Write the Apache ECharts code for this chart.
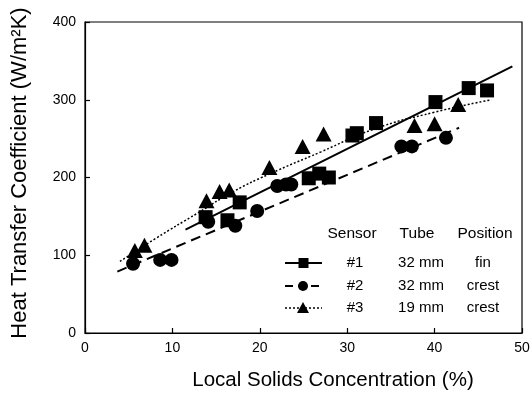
<!DOCTYPE html>
<html><head><meta charset="utf-8">
<script src="https://cdn.jsdelivr.net/npm/echarts@6/dist/echarts.min.js"></script>
<style>html,body{margin:0;padding:0;background:#fff}#c{width:532px;height:400px}</style>
</head><body><div id="c"></div>
<script>
// Sensor #1 (squares)
const s1 = [[13.8,149],[16.3,145],[17.7,168],[25.6,199],[26.8,205],[27.9,200],[30.6,254],[31.1,257],[33.3,270],[40.1,297],[43.9,315],[46.0,312]];
// Sensor #2 (circles)
const s2 = [[5.5,89],[8.6,94],[9.9,94],[14.1,143],[17.2,138],[19.7,157],[22.0,189],[23.0,191],[23.6,191],[36.2,240],[37.4,240],[41.3,251]];
// Sensor #3 (triangles)
const s3 = [[5.7,106],[6.8,113],[13.9,170],[15.4,182],[16.5,184],[21.1,213],[24.9,240],[27.3,256],[37.7,267],[40.0,269],[42.7,294]];
// Fit curves
const fit1 = [[11.5,133],[48.9,343]];
const fit2 = [[3.7,79],[42.8,264]];
const fit3 = [[4,92],[8,121],[13,155],[17,182],[21,204],[27,233],[33,262],[40,284],[46.5,300]];
const xTicks = [0,10,20,30,40,50];
const yTicks = [0,100,200,300,400];
const legendRows = [["#1","32 mm","fin"],["#2","32 mm","crest"],["#3","19 mm","crest"]];
const legendHeader = ["Sensor","Tube","Position"];
const xTitle = 'Local Solids Concentration (%)';
const yTitle = 'Heat Transfer Coefficient (W/m²K)';

const FONT = '"Liberation Sans", Arial, Helvetica, sans-serif';
const chart = echarts.init(document.getElementById('c'), null, {renderer:'canvas'});

const gridL = 85, gridT = 22, gridR = 10, gridB = 67;

const g = [];
const hx = [352, 417, 485];
legendHeader.forEach((t,i)=>g.push({type:'text', x: hx[i], y: 234, style:{text:t, font:'15.5px '+FONT, fill:'#000', textAlign:'center', textVerticalAlign:'middle'}}));
const rowY = [263, 286, 308];
const colX = [355, 421, 483];
const dashes = [null, [8,5], [2,2]];
rowY.forEach((y,r)=>{
  legendRows[r].forEach((t,i)=>g.push({type:'text', x: colX[i], y: y, style:{text:t, font:'15px '+FONT, fill:'#000', textAlign:'center', textVerticalAlign:'middle'}}));
  g.push({type:'line', shape:{x1:285,y1:y,x2:322,y2:y}, style:{stroke:'#000', lineWidth: r===2?1.5:2, lineDash: dashes[r]}});
  if (r===0) g.push({type:'rect', shape:{x:298.5,y:y-5,width:10,height:10}, style:{fill:'#000'}});
  if (r===1) g.push({type:'circle', shape:{cx:303,cy:y,r:5}, style:{fill:'#000'}});
  if (r===2) g.push({type:'polygon', shape:{points:[[303,y-6],[297,y+5],[309,y+5]]}, style:{fill:'#000'}});
});
g.push({type:'text', x: 333, y: 380, style:{text:xTitle, font:'20.5px '+FONT, fill:'#000', textAlign:'center', textVerticalAlign:'middle'}});
g.push({type:'text', x: 20, y: 173, rotation: Math.PI/2, style:{text:yTitle, font:'22px '+FONT, fill:'#000', textAlign:'center', textVerticalAlign:'middle'}});

chart.setOption({
  animation:false,
  backgroundColor:'#fff',
  grid:{left:gridL, top:gridT, right:gridR, bottom:gridB, show:true, borderColor:'#000', borderWidth:1.2, containLabel:false, outerBoundsMode:'none'},
  xAxis:{type:'value', min:0, max:50, interval:10,
    axisLine:{lineStyle:{color:'#000', width:1.2}},
    axisTick:{inside:true, length:5, lineStyle:{color:'#000', width:1.2}},
    axisLabel:{fontSize:14, fontFamily:FONT, color:'#000', margin:8, formatter:v=>xTicks.includes(v)?String(v):''},
    splitLine:{show:false}},
  yAxis:{type:'value', min:0, max:400, interval:100,
    axisLine:{lineStyle:{color:'#000', width:1.2}},
    axisTick:{inside:true, length:5, lineStyle:{color:'#000', width:1.2}},
    axisLabel:{fontSize:14, fontFamily:FONT, color:'#000', margin:9, formatter:v=>yTicks.includes(v)?String(v):''},
    splitLine:{show:false}},
  series:[
    {type:'line', data:fit1, symbol:'none', lineStyle:{color:'#000', width:2}, z:2},
    {type:'line', data:fit2, symbol:'none', lineStyle:{color:'#000', width:2, type:[10,6]}, z:2},
    {type:'line', data:fit3, symbol:'none', smooth:true, lineStyle:{color:'#000', width:1.5, type:[2,2]}, z:2},
    {type:'scatter', data:s1, symbol:'rect', symbolSize:14, itemStyle:{color:'#000', opacity:1}, z:3},
    {type:'scatter', data:s2, symbol:'circle', symbolSize:14, itemStyle:{color:'#000', opacity:1}, z:3},
    {type:'scatter', data:s3, symbol:'triangle', symbolSize:[16,15], itemStyle:{color:'#000', opacity:1}, z:3}
  ],
  graphic: g
});
</script></body></html>
